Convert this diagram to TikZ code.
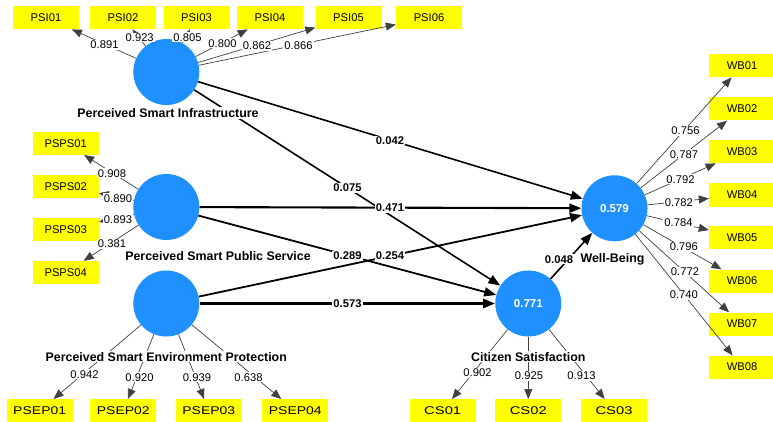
\documentclass[tikz,border=0pt]{standalone}
\usepackage{fontspec}
\setmainfont{Liberation Sans}
\usetikzlibrary{arrows.meta}
\definecolor{cblue}{RGB}{30,144,255}
\definecolor{cyel}{RGB}{255,255,0}
\begin{document}
\begin{tikzpicture}[x=1pt,y=-1pt,
  ind/.style={fill=cyel,minimum width=66pt,minimum height=23pt,inner sep=0pt,font=\fontsize{11.2}{13}\selectfont},
  lv/.style={circle,fill=cblue,minimum size=66pt,inner sep=0pt,text=white,font=\bfseries\fontsize{11.5}{13}\selectfont},
  lvname/.style={fill=white,inner sep=1pt,font=\bfseries\fontsize{12.4}{14}\selectfont},
  load/.style={draw=black!75,line width=0.7pt,-{Triangle[length=10pt,width=8pt]}},
  loadlbl/.style={fill=white,inner sep=1pt,font=\fontsize{11.2}{13}\selectfont},
  path/.style={draw=black,line width=1.6pt,-{Triangle[length=12pt,width=9pt]}},
  pathlbl/.style={fill=white,inner sep=1pt,font=\bfseries\fontsize{11.2}{13}\selectfont}]
\useasboundingbox (0,0) rectangle (773,422);
% latent variables
\node[lv] (psi) at (166.3,72) {};
\node[lv] (psps) at (166.3,207) {};
\node[lv] (psep) at (166.3,303.5) {};
\node[lv] (cs) at (528.3,303.5) {0.771};
\node[lv] (wb) at (614.5,208.3) {0.579};
% indicators
\node[ind] (psi01) at (46,17.7) {PSI01};
\node[ind] (psi02) at (123,17.7) {PSI02};
\node[ind] (psi03) at (196.5,17.7) {PSI03};
\node[ind] (psi04) at (270,17.7) {PSI04};
\node[ind] (psi05) at (348.5,17.7) {PSI05};
\node[ind] (psi06) at (429,17.7) {PSI06};
\node[ind] (psps01) at (65.7,143.3) {PSPS01};
\node[ind] (psps02) at (65.7,186.3) {PSPS02};
\node[ind] (psps03) at (65.7,229.3) {PSPS03};
\node[ind] (psps04) at (65.7,272.5) {PSPS04};
\node[ind] (psep01) at (39.7,410.7) {\scalebox{1.25}[1]{PSEP01}};
\node[ind] (psep02) at (123.3,410.7) {\scalebox{1.25}[1]{PSEP02}};
\node[ind] (psep03) at (208.8,410.7) {\scalebox{1.25}[1]{PSEP03}};
\node[ind] (psep04) at (295.3,410.7) {\scalebox{1.25}[1]{PSEP04}};
\node[ind] (cs01) at (442.7,410.7) {\scalebox{1.32}[1]{CS01}};
\node[ind] (cs02) at (528.3,410.7) {\scalebox{1.32}[1]{CS02}};
\node[ind] (cs03) at (614,410.7) {\scalebox{1.32}[1]{CS03}};
\node[ind] (wb01) at (742,65.7) {WB01};
\node[ind] (wb02) at (742,109) {WB02};
\node[ind] (wb03) at (742,151.7) {WB03};
\node[ind] (wb04) at (742,195) {WB04};
\node[ind] (wb05) at (742,237.7) {WB05};
\node[ind] (wb06) at (742,281) {WB06};
\node[ind] (wb07) at (742,324) {WB07};
\node[ind] (wb08) at (742,367) {WB08};
% outer loadings
\foreach \t in {psi01,psi02,psi03,psi04,psi05,psi06} \draw[load] (psi) -- (\t);
\foreach \t in {psps01,psps02,psps03,psps04} \draw[load] (psps) -- (\t);
\foreach \t in {psep01,psep02,psep03,psep04} \draw[load] (psep) -- (\t);
\foreach \t in {cs01,cs02,cs03} \draw[load] (cs) -- (\t);
\foreach \t in {wb01,wb02,wb03,wb04,wb05,wb06,wb07,wb08} \draw[load] (wb) -- (\t);
% structural paths
\draw[path] (psi) -- (wb);
\draw[path] (psi) -- (cs);
\draw[path,line width=2.1pt] (psps) -- (wb);
\draw[path,line width=1.8pt] (psps) -- (cs);
\draw[path,line width=1.8pt] (psep) -- (wb);
\draw[path,line width=2.6pt] (psep) -- (cs);
\draw[path] (cs) -- (wb);
% loading labels
\node[loadlbl] (l1) at (104.5,45) {0.891};
\node[loadlbl] (l2) at (139.7,37.5) {0.923};
\node[loadlbl] (l3) at (187.5,37.3) {0.805};
\node[loadlbl] (l4) at (222.5,43.3) {0.800};
\node[loadlbl] (l5) at (257,46) {0.862};
\node[loadlbl] (l6) at (298.5,46) {0.866};
\node[loadlbl] (l7) at (112,173.3) {0.908};
\node[loadlbl] (l8) at (118,198.3) {0.890};
\node[loadlbl] (l9) at (118,219.3) {0.893};
\node[loadlbl] (l10) at (112,244) {0.381};
\node[loadlbl] (l11) at (84.5,374.3) {0.942};
\node[loadlbl] (l12) at (139.5,377.3) {0.920};
\node[loadlbl] (l13) at (197,377.3) {0.939};
\node[loadlbl] (l14) at (248.5,377.3) {0.638};
\node[loadlbl] (l15) at (477.5,372.7) {0.902};
\node[loadlbl] (l16) at (529,376) {0.925};
\node[loadlbl] (l17) at (581.5,376) {0.913};
\node[loadlbl] (l18) at (685.5,130.7) {0.756};
\node[loadlbl] (l19) at (684,154.3) {0.787};
\node[loadlbl] (l20) at (680.5,179.3) {0.792};
\node[loadlbl] (l21) at (678.8,202.3) {0.782};
\node[loadlbl] (l22) at (678.5,222.7) {0.784};
\node[loadlbl] (l23) at (683.8,246.7) {0.796};
\node[loadlbl] (l24) at (685,271.7) {0.772};
\node[loadlbl] (l25) at (683.8,295) {0.740};
% path labels
\node[pathlbl] (p1) at (390,140.5) {0.042};
\node[pathlbl] (p2) at (347.5,188) {0.075};
\node[pathlbl] (p3) at (390,208) {0.471};
\node[pathlbl] (p4) at (347.5,256) {0.289};
\node[pathlbl] (p5) at (390,256) {0.254};
\node[pathlbl] (p6) at (347.5,303.5) {0.573};
\node[pathlbl] (p7) at (559,259.3) {0.048};
% construct names
\node[lvname] (n1) at (168,113) {Perceived Smart Infrastructure};
\node[lvname] (n2) at (218,255.7) {Perceived Smart Public Service};
\node[lvname] (n3) at (166.3,356.7) {Perceived Smart Environment Protection};
\node[lvname] (n4) at (528.3,356.7) {Citizen Satisfaction};
\node[lvname] (n5) at (612.5,259.3) {Well-Being};
\end{tikzpicture}
\end{document}
